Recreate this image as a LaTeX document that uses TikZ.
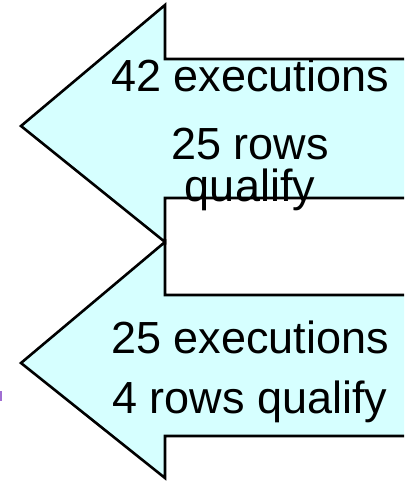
\documentclass[tikz,border=0pt]{standalone}
\usepackage{fontspec}
\setmainfont{Liberation Sans}
\definecolor{arrowfill}{RGB}{214,255,255}
\definecolor{sliver}{RGB}{160,110,210}
\tikzset{
  arrowshape/.style={fill=arrowfill},
  arrowline/.style={draw=black, line width=2.6pt, line join=miter},
  lbl/.style={anchor=base, inner sep=0pt, font=\fontsize{45}{50}\selectfont},
}
\begin{document}
\begin{tikzpicture}[x=1pt,y=1pt]
\useasboundingbox (0,0) rectangle (404,-481);
\clip (0,0) rectangle (404,-481);
% arrow 1
\fill[arrowshape] (21,-126) -- (165,-5) -- (165,-59) -- (420,-59) -- (420,-198) -- (165,-198) -- (165,-242) -- cycle;
% arrow 2
\fill[arrowshape] (21,-363) -- (165,-242) -- (165,-295) -- (420,-295) -- (420,-436) -- (165,-436) -- (165,-478) -- cycle;
\node[lbl] (a1) at (250,-92) {42 executions};
\node[lbl] (a2) at (250,-159) {25 rows};
\node[lbl] (a3) at (250,-201) {qualify};
\node[lbl] (b1) at (250,-353) {25 executions};
\node[lbl] (b2) at (250,-413) {4 rows qualify};
\draw[arrowline] (420,-59) -- (165,-59) -- (165,-5) -- (21,-126) -- (165,-242) -- (165,-198) -- (420,-198);
\draw[arrowline] (420,-295) -- (165,-295) -- (165,-242) -- (21,-363) -- (165,-478) -- (165,-436) -- (420,-436);
\fill[sliver] (0,-391) rectangle (1.5,-401);
\end{tikzpicture}
\end{document}
